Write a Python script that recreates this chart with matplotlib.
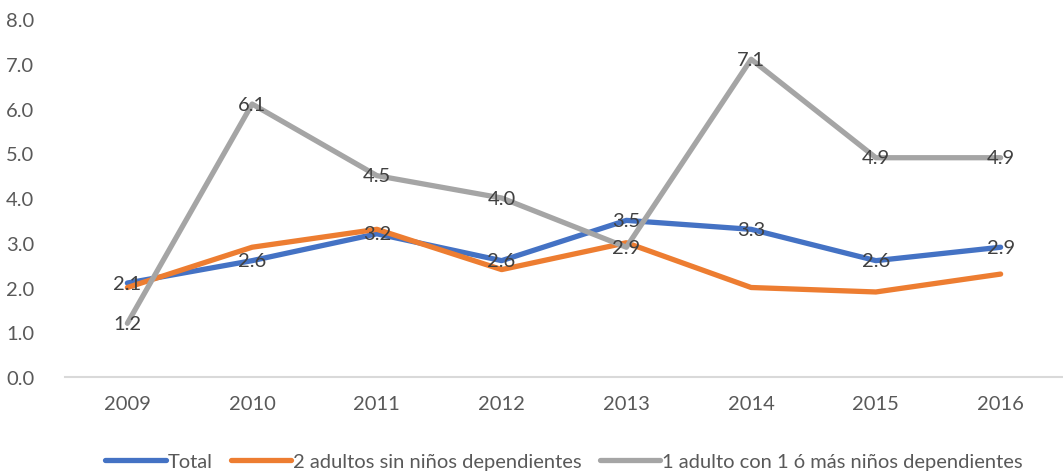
import matplotlib
matplotlib.use("Agg")
import matplotlib.pyplot as plt

years = ["2009", "2010", "2011", "2012", "2013", "2014", "2015", "2016"]
total = [2.1, 2.6, 3.2, 2.6, 3.5, 3.3, 2.6, 2.9]
dos_adultos = [2.0, 2.9, 3.3, 2.4, 3.0, 2.0, 1.9, 2.3]
un_adulto = [1.2, 6.1, 4.5, 4.0, 2.9, 7.1, 4.9, 4.9]

plt.rcParams['font.family'] = ['Lato', 'DejaVu Sans']

fig = plt.figure(figsize=(10.63, 4.77), dpi=100)
ax = fig.add_axes([65 / 1063, 1 - 378 / 477, 1 - 65 / 1063, (378 - 20) / 477])

x = list(range(len(years)))
ax.plot(x, total, color='#4472C4', lw=3.8, solid_capstyle='round', label='Total')
ax.plot(x, dos_adultos, color='#ED7D31', lw=3.8, solid_capstyle='round',
        label='2 adultos sin niños dependientes')
ax.plot(x, un_adulto, color='#A5A5A5', lw=3.8, solid_capstyle='round',
        label='1 adulto con 1 ó más niños dependientes')

for serie in (total, un_adulto):
    for xi, v in zip(x, serie):
        ax.text(xi, v, f"{v:.1f}", ha='center', va='center', fontsize=14.5, color='#404040', zorder=5)

ax.set_xlim(-0.5, 7.5)
ax.set_ylim(0, 8)
ax.set_yticks(range(0, 9))
ax.set_yticklabels([f"{v:.1f}" for v in range(0, 9)])
ax.set_xticks(x)
ax.set_xticklabels(years)
ax.tick_params(length=0, labelsize=14.5, colors='#595959')
ax.tick_params(axis='y', pad=22)
ax.tick_params(axis='x', pad=13)
for s in ['top', 'right', 'left']:
    ax.spines[s].set_visible(False)
ax.spines['bottom'].set_color('#D9D9D9')
ax.spines['bottom'].set_linewidth(1.5)

leg = ax.legend(loc='center', bbox_to_anchor=(0.5, -0.235), ncol=3, frameon=False,
                fontsize=14.5, handlelength=3.0, handletextpad=0.1, columnspacing=0.9)
for t in leg.get_texts():
    t.set_color('#595959')

fig.savefig("out.png", dpi=100)
